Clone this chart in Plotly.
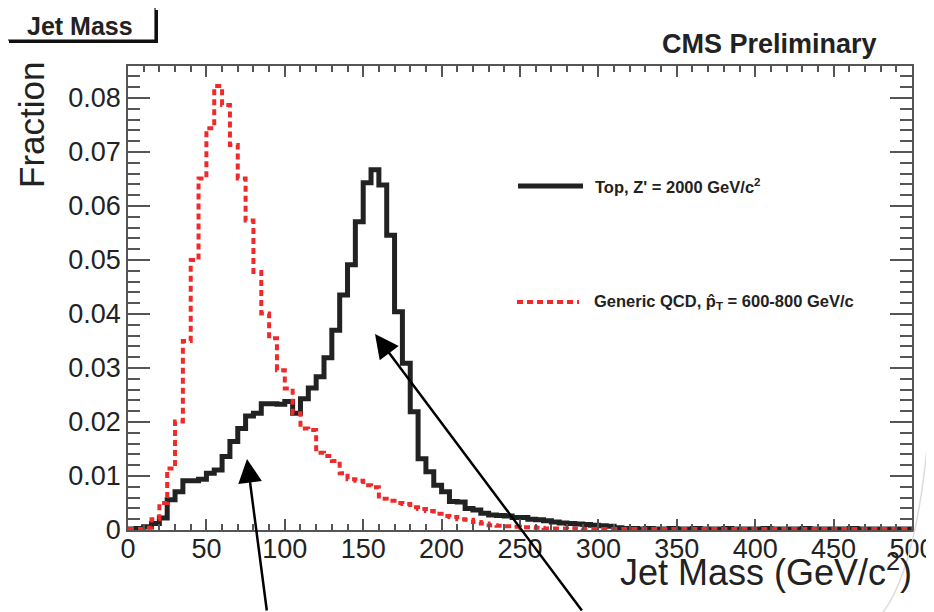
import plotly.graph_objects as go

# ---------------- data (5 GeV bins, 0-500 GeV) ----------------
bin_edges = list(range(0, 505, 5))

top_zprime = [
    0.0002, 0.0003, 0.0006, 0.0012, 0.0022, 0.0056, 0.0071, 0.0091, 0.0091, 0.0094,
    0.0105, 0.0111, 0.0136, 0.0164, 0.0188, 0.0211, 0.0216, 0.0234, 0.0234, 0.0233,
    0.0238, 0.0216, 0.0243, 0.0263, 0.0284, 0.0319, 0.0370, 0.0435, 0.0491, 0.0571,
    0.0643, 0.0667, 0.0639, 0.0546, 0.0404, 0.0309, 0.0219, 0.0132, 0.0108, 0.0083,
    0.0071, 0.0053, 0.0052, 0.0040, 0.0037, 0.0031, 0.0028, 0.0027, 0.0026, 0.0023,
    0.0023, 0.0020, 0.0019, 0.0017, 0.0015, 0.0013, 0.0012, 0.0011, 0.0010, 0.0009,
    0.0008, 0.0007, 0.0004, 0.0003, 0.0003, 0.0002, 0.0003, 0.0002, 0.0002, 0.0003,
    0.0002, 0.0002, 0.0003, 0.0002, 0.0002, 0.0002, 0.0003, 0.0002, 0.0002, 0.0002,
    0.0002, 0.0003, 0.0002, 0.0002, 0.0002, 0.0002, 0.0003, 0.0002, 0.0002, 0.0002,
    0.0002, 0.0002, 0.0003, 0.0002, 0.0002, 0.0002, 0.0002, 0.0002, 0.0002, 0.0002,
]

qcd = [
    0.0002, 0.0002, 0.0004, 0.0020, 0.0050, 0.0114, 0.0201, 0.0350, 0.0500, 0.0651,
    0.0744, 0.0822, 0.0787, 0.0713, 0.0651, 0.0573, 0.0478, 0.0401, 0.0355, 0.0296,
    0.0262, 0.0216, 0.0188, 0.0185, 0.0143, 0.0137, 0.0128, 0.0105, 0.0094, 0.0091,
    0.0083, 0.0079, 0.0058, 0.0054, 0.0050, 0.0048, 0.0042, 0.0039, 0.0035, 0.0030,
    0.0026, 0.0024, 0.0020, 0.0019, 0.0015, 0.0012, 0.0009, 0.0008, 0.0007, 0.0006,
    0.0005, 0.0005, 0.0004, 0.0003, 0.0003, 0.0003, 0.0002, 0.0003, 0.0002, 0.0002,
    0.0002, 0.0002, 0.0002, 0.0002, 0.0002, 0.0002, 0.0002, 0.0002, 0.0002, 0.0002,
    0.0002, 0.0002, 0.0002, 0.0002, 0.0002, 0.0002, 0.0002, 0.0002, 0.0002, 0.0002,
    0.0002, 0.0002, 0.0002, 0.0002, 0.0002, 0.0002, 0.0002, 0.0002, 0.0002, 0.0002,
    0.0002, 0.0002, 0.0002, 0.0002, 0.0002, 0.0002, 0.0002, 0.0002, 0.0002, 0.0002,
]

x_ticks = [0, 50, 100, 150, 200, 250, 300, 350, 400, 450, 500]
y_ticks = [0, 0.01, 0.02, 0.03, 0.04, 0.05, 0.06, 0.07, 0.08]

label_top = "<b>Top, Z' = 2000 GeV/c<sup>2</sup></b>"
label_qcd = "<b>Generic QCD, p\u0302<sub>T</sub> = 600-800 GeV/c</b>"

# ---------------- figure geometry ----------------
# the page body has an 8px margin, so the figure is 8px smaller and every
# screen coordinate below is converted by subtracting that offset
OFF = 8
W, H = 934 - OFF, 612 - OFF
PL, PT, PR, PB = 128, 66, 912, 530          # plot frame in screen pixels
PW, PH = PR - PL, PB - PT
L, T = PL - OFF, PT - OFF
R, B = W - L - PW, H - T - PH


def px(x):
    return (x - PL) / PW


def py(y):
    return (PB - y) / PH


FONT = "Liberation Sans, Arial, Helvetica, sans-serif"
AX = "#555555"
INK = "#222222"
RED = "#ee2a2a"

fig = go.Figure()

fig.add_trace(go.Scatter(
    x=bin_edges, y=top_zprime + [top_zprime[-1]], mode="lines",
    line=dict(shape="hv", color=INK, width=5), showlegend=False,
    hoverinfo="skip"))
fig.add_trace(go.Scatter(
    x=bin_edges, y=qcd + [qcd[-1]], mode="lines",
    line=dict(shape="hv", color=RED, width=4, dash="6px,4px"), showlegend=False,
    hoverinfo="skip"))

fig.update_layout(
    width=W, height=H,
    margin=dict(l=L, r=R, t=T, b=B, autoexpand=False),
    paper_bgcolor="white", plot_bgcolor="white",
    font=dict(family=FONT, color=INK),
    showlegend=False,
)

fig.update_xaxes(
    range=[0, 500], tickvals=x_ticks, ticks="inside", ticklen=11, tickwidth=1.5,
    tickcolor=AX, showline=True, linecolor=AX, linewidth=1.5, mirror="ticks",
    showgrid=False, zeroline=False, tickfont=dict(size=27, color=INK),
    ticklabelstandoff=-6, automargin=False, ticklabeloverflow="allow",
    minor=dict(dtick=10, tick0=0, ticks="inside", ticklen=6, tickwidth=1.5,
               tickcolor=AX, showgrid=False),
)
fig.update_yaxes(
    range=[0, PH / 5400.0], tickvals=y_ticks, ticks="inside", ticklen=22,
    tickwidth=1.5, tickcolor=AX, showline=True, linecolor=AX, linewidth=1.5,
    mirror="ticks", showgrid=False, zeroline=False, automargin=False,
    tickfont=dict(size=27, color=INK), ticklabeloverflow="allow",
    minor=dict(dtick=0.002, tick0=0, ticks="inside", ticklen=12, tickwidth=1.5,
               tickcolor=AX, showgrid=False),
)

shapes = []
# title box with shadow
shapes.append(dict(type="rect", xref="paper", yref="paper",
                   x0=px(9), x1=px(158), y0=py(10), y1=py(43),
                   fillcolor="#111111", line=dict(width=0), layer="above"))
shapes.append(dict(type="rect", xref="paper", yref="paper",
                   x0=px(6), x1=px(155), y0=py(7), y1=py(40),
                   fillcolor="white", line=dict(color="#111111", width=1.2),
                   layer="above"))
# legend samples
shapes.append(dict(type="line", xref="paper", yref="paper",
                   x0=px(518), x1=px(583), y0=py(186), y1=py(186),
                   line=dict(color=INK, width=5)))
shapes.append(dict(type="line", xref="paper", yref="paper",
                   x0=px(517), x1=px(579), y0=py(302), y1=py(302),
                   line=dict(color=RED, width=4, dash="6px,4px")))
# faint scan arc at the lower right
arc = "M {:.4f},{:.4f} Q {:.4f},{:.4f} {:.4f},{:.4f}".format(
    px(934), py(330), px(928), py(560), px(880), py(616))
shapes.append(dict(type="path", xref="paper", yref="paper", path=arc,
                   line=dict(color="#dcdcdc", width=1.5)))
fig.update_layout(shapes=shapes)

ann = []
ann.append(dict(text="<b>Jet Mass</b>", x=px(80), y=py(26), xref="paper",
                yref="paper", showarrow=False, xanchor="center",
                yanchor="middle", font=dict(size=25, color=INK)))
ann.append(dict(text="<b>CMS Preliminary</b>", x=px(769), y=py(44),
                xref="paper", yref="paper", showarrow=False,
                xanchor="center", yanchor="middle",
                font=dict(size=27, color=INK)))
ann.append(dict(text="Fraction", x=px(32), y=py(60), xref="paper",
                yref="paper", showarrow=False, textangle=-90,
                xanchor="center", yanchor="top",
                font=dict(size=35, color=INK)))
ann.append(dict(text="Jet Mass (GeV/c<sup>2</sup>)", x=px(914), y=py(570),
                xref="paper", yref="paper", showarrow=False,
                xanchor="right", yanchor="middle",
                font=dict(size=36, color=INK)))
ann.append(dict(text=label_top, x=px(593), y=py(186), xref="paper",
                yref="paper", showarrow=False, xanchor="left",
                yanchor="middle", font=dict(size=16.5, color=INK)))
ann.append(dict(text=label_qcd, x=px(592), y=py(302), xref="paper",
                yref="paper", showarrow=False, xanchor="left",
                yanchor="middle", font=dict(size=16.5, color=INK)))
# arrows pointing at the two structures
ann.append(dict(text="", x=px(247), y=py(459), xref="paper", yref="paper",
                showarrow=True, ax=20, ay=158, arrowhead=2, arrowsize=1.9,
                arrowwidth=2.5, arrowcolor="black", standoff=0))
ann.append(dict(text="", x=px(375), y=py(334), xref="paper", yref="paper",
                showarrow=True, ax=208, ay=281, arrowhead=2, arrowsize=1.9,
                arrowwidth=2.5, arrowcolor="black", standoff=0))
fig.update_layout(annotations=ann)

fig.write_html("out.html")
